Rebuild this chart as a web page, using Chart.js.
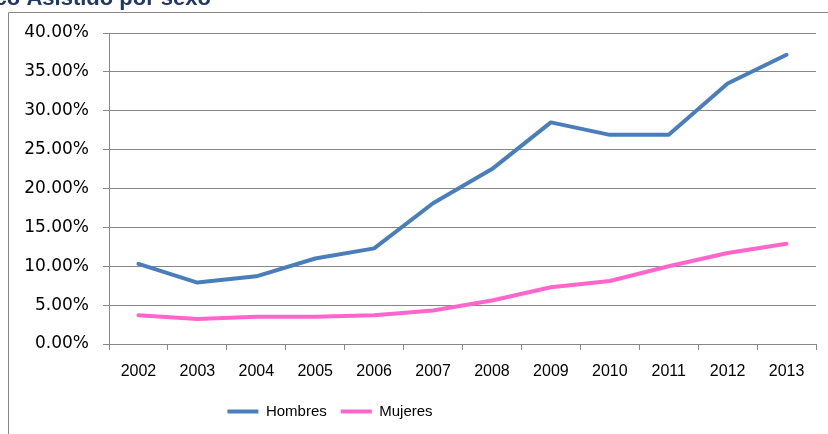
<!DOCTYPE html>
<html>
<head>
<meta charset="utf-8">
<script src="https://cdn.jsdelivr.net/npm/chart.js@4/dist/chart.umd.min.js"></script>
<style>
html,body{margin:0;padding:0;background:#fff;overflow:hidden;}
#wrap{position:absolute;left:0;top:0;width:828px;height:434px;}
</style>
</head>
<body>
<div id="wrap"><canvas id="c" width="828" height="434"></canvas></div>
<script>
const years = ['2002','2003','2004','2005','2006','2007','2008','2009','2010','2011','2012','2013'];
const hombres = [0.103, 0.079, 0.087, 0.110, 0.123, 0.181, 0.225, 0.285, 0.269, 0.269, 0.335, 0.372];
const mujeres = [0.037, 0.032, 0.035, 0.035, 0.037, 0.043, 0.056, 0.073, 0.081, 0.100, 0.117, 0.129];
const yTicks = [0, 0.05, 0.10, 0.15, 0.20, 0.25, 0.30, 0.35, 0.40];
const titleText = 'Gráfico Asistido por sexo';

const gridColor = '#878787';

const framePlugin = {
  id: 'frame',
  beforeDraw(chart) {
    const ctx = chart.ctx;
    ctx.save();
    ctx.fillStyle = '#fff';
    ctx.fillRect(0, 0, chart.width, chart.height);
    ctx.strokeStyle = gridColor;
    ctx.lineWidth = 1;
    ctx.beginPath();
    ctx.moveTo(8.5, chart.height);
    ctx.lineTo(8.5, 12.5);
    ctx.lineTo(chart.width, 12.5);
    ctx.stroke();
    ctx.font = 'bold 22px "Liberation Sans", sans-serif';
    ctx.fillStyle = '#1F3864';
    ctx.textBaseline = 'alphabetic';
    ctx.textAlign = 'right';
    ctx.fillText(titleText, 211, 5);
    ctx.restore();
  },
  afterLayout(chart) {
    const lg = chart.legend;
    if (lg) {
      const shift = 330 - (lg.left + lg.right) / 2;
      lg.left += shift;
      lg.right += shift;
    }
  }
};

new Chart(document.getElementById('c'), {
  type: 'line',
  data: {
    labels: years,
    datasets: [
      { label: 'Hombres', data: hombres, borderColor: '#4A7EBB', backgroundColor: '#4A7EBB', borderWidth: 4, pointRadius: 0, tension: 0, borderCapStyle: 'round', borderJoinStyle: 'round' },
      { label: 'Mujeres', data: mujeres, borderColor: '#FF66CC', backgroundColor: '#FF66CC', borderWidth: 4, pointRadius: 0, tension: 0, borderCapStyle: 'round', borderJoinStyle: 'round' }
    ]
  },
  options: {
    responsive: false,
    animation: false,
    devicePixelRatio: 1,
    layout: { padding: { left: 0, right: 12, top: 33, bottom: 5 } },
    plugins: {
      tooltip: { enabled: false },
      title: { display: false },
      legend: {
        display: true,
        position: 'bottom',
        align: 'center',
        labels: {
          boxWidth: 31,
          boxHeight: 4,
          padding: 14,
          color: '#000',
          font: { family: '"Liberation Sans", sans-serif', size: 15 },
          generateLabels(chart) {
            return chart.data.datasets.map((d, i) => ({
              text: d.label,
              fillStyle: d.borderColor,
              strokeStyle: d.borderColor,
              lineWidth: 0,
              hidden: false,
              datasetIndex: i
            }));
          }
        }
      }
    },
    scales: {
      x: {
        offset: true,
        grid: { display: true, offset: true, drawOnChartArea: false, drawTicks: true, tickLength: 6, color: gridColor },
        border: { display: true, color: gridColor, width: 1 },
        ticks: { color: '#000', padding: 12, maxRotation: 0, autoSkip: false, font: { family: '"Liberation Sans", sans-serif', size: 16 } },
        afterFit(scale) { scale.height = 46; }
      },
      y: {
        min: 0,
        max: 0.40,
        afterBuildTicks(scale) { scale.ticks = yTicks.map(v => ({ value: v })); },
        grid: { color: gridColor, tickLength: 6, drawTicks: true },
        border: { display: true, color: gridColor, width: 1 },
        ticks: {
          color: '#000',
          padding: 14,
          font: { family: '"DejaVu Sans", sans-serif', size: 17 },
          callback: (v) => (v * 100).toFixed(2) + '%'
        },
        afterFit(scale) { scale.width = 109; }
      }
    }
  },
  plugins: [framePlugin]
});
</script>
</body>
</html>
